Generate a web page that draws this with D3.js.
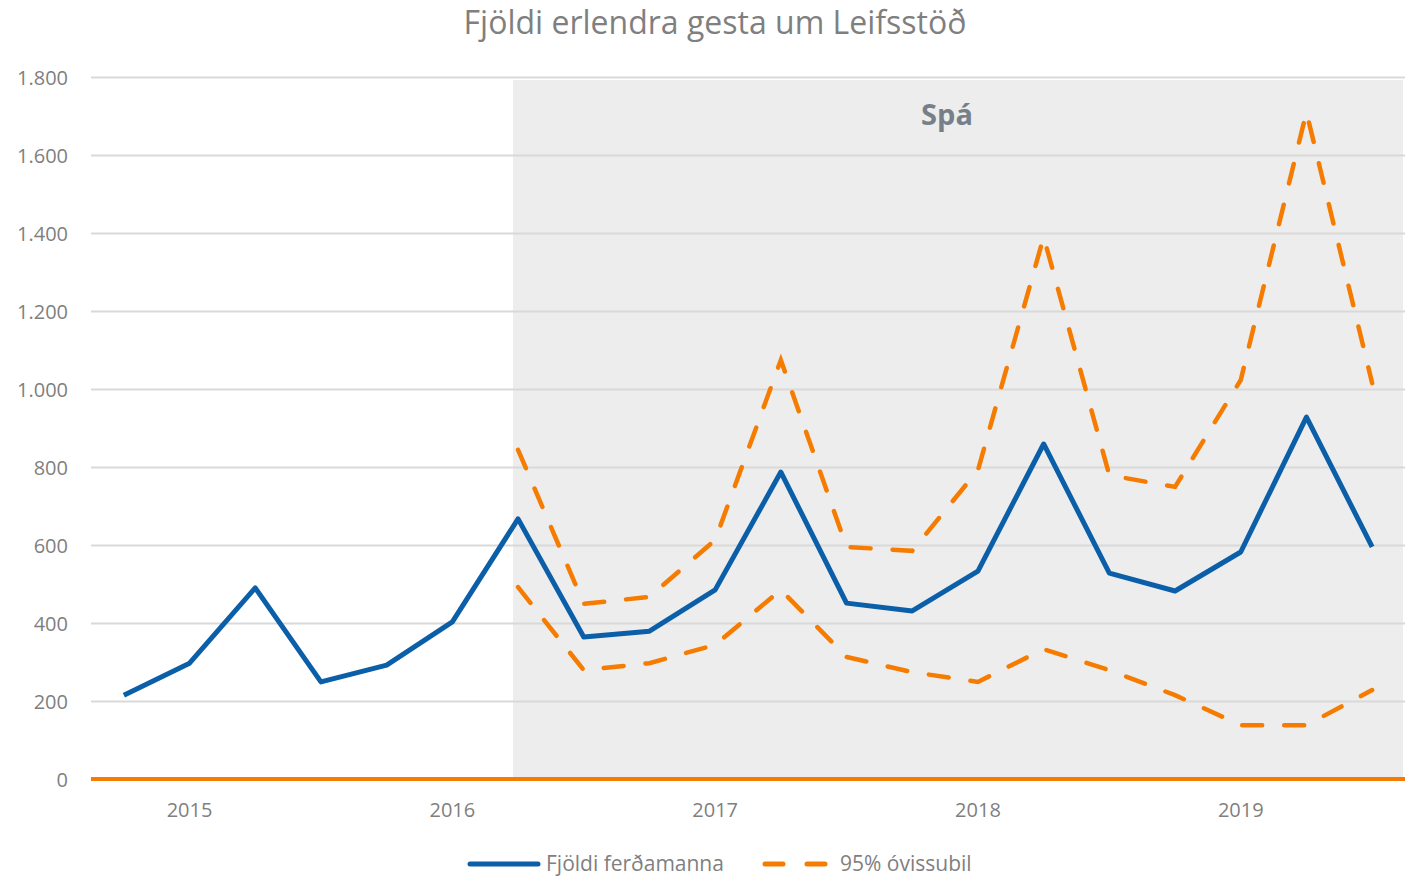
<!DOCTYPE html>
<html>
<head>
<meta charset="utf-8">
<script src="https://cdn.jsdelivr.net/npm/d3@7"></script>
<style>
  body { margin: 0; background: #fff; }
  text { font-family: "Open Sans", "Noto Sans", sans-serif; fill: #7f7f7f; }
</style>
</head>
<body>
<div id="chart"></div>
<script>
// quarters, 2014 Q4 .. 2019 Q3
var quarters = ["2014Q4","2015Q1","2015Q2","2015Q3","2015Q4","2016Q1","2016Q2","2016Q3","2016Q4",
                "2017Q1","2017Q2","2017Q3","2017Q4","2018Q1","2018Q2","2018Q3","2018Q4","2019Q1","2019Q2","2019Q3"];
var yearLabels = {"2015Q1": "2015", "2016Q1": "2016", "2017Q1": "2017", "2018Q1": "2018", "2019Q1": "2019"};
var visitors = [215, 297, 490, 249, 292, 403, 667, 364, 379, 485, 787, 451, 431, 533, 859, 528, 482, 582, 928, 595];
var upper = [null, null, null, null, null, null, 844, 449, 467, 613, 1074, 595, 585, 792, 1390, 779, 749, 1023, 1710, 1015];
var lower = [null, null, null, null, null, null, 492, 279, 297, 344, 485, 313, 274, 249, 333, 279, 215, 138, 138, 228];
var yTicks = [0, 200, 400, 600, 800, 1000, 1200, 1400, 1600, 1800];
var forecastStart = "2016Q2";

var width = 1411, height = 876;
var margin = {top: 77, right: 6, bottom: 97, left: 91};
var w = width - margin.left - margin.right,
    h = height - margin.top - margin.bottom;

var svg = d3.select("#chart").append("svg")
    .attr("width", width)
    .attr("height", height);

var g = svg.append("g")
    .attr("transform", "translate(" + margin.left + "," + margin.top + ")");

var x = d3.scaleBand().domain(quarters).range([0, w]);
var y = d3.scaleLinear().domain([0, 1800]).range([h, 0]);
var cx = function(d, i) { return x(quarters[i]) + x.bandwidth() / 2; };

// forecast shading
var shadeX = cx(null, quarters.indexOf(forecastStart)) - 5;
g.append("rect")
    .attr("x", shadeX)
    .attr("y", 3)
    .attr("width", w - shadeX - 2)
    .attr("height", h - 3)
    .style("fill", "#ededed");

// gridlines
var yAxis = d3.axisLeft(y)
    .tickValues(yTicks)
    .tickSize(-w)
    .tickFormat(function(d) { return d3.format(",")(d).replace(/,/g, "."); });

g.append("g")
    .attr("class", "axis axis--y")
    .call(yAxis)
    .call(function(s) {
      s.select(".domain").remove();
      s.selectAll(".tick line").attr("stroke", "#d9d9d9").attr("stroke-width", 2);
      s.selectAll(".tick text").attr("x", -23).attr("dy", "0.35em")
        .style("font-size", "20px").style("fill", "#7f7f7f");
    });

g.append("text")
    .attr("x", 856)
    .attr("y", 48)
    .attr("text-anchor", "middle")
    .style("font-size", "29px")
    .style("font-weight", "bold")
    .style("fill", "#758089")
    .text("Spá");

// zero line
g.append("line")
    .attr("x1", 0).attr("x2", w)
    .attr("y1", y(0)).attr("y2", y(0))
    .attr("stroke", "#f57c00")
    .attr("stroke-width", 4);

// x axis labels
var xAxis = d3.axisBottom(x)
    .tickValues(Object.keys(yearLabels))
    .tickSize(0)
    .tickFormat(function(d) { return yearLabels[d]; });

g.append("g")
    .attr("class", "axis axis--x")
    .attr("transform", "translate(0," + h + ")")
    .call(xAxis)
    .call(function(s) {
      s.select(".domain").remove();
      s.selectAll(".tick text").attr("dy", "1.75em")
        .style("font-size", "20px").style("fill", "#7f7f7f");
    });

var line = d3.line()
    .defined(function(d) { return d != null; })
    .x(cx)
    .y(function(d) { return y(d); });

[upper, lower].forEach(function(series) {
  g.append("path")
      .datum(series)
      .attr("d", line)
      .attr("fill", "none")
      .attr("stroke", "#f57c00")
      .attr("stroke-width", 4.5)
      .attr("stroke-linecap", "round")
      .attr("stroke-dasharray", "20,22");
});

g.append("path")
    .datum(visitors)
    .attr("d", line)
    .attr("fill", "none")
    .attr("stroke", "#0b5fa8")
    .attr("stroke-width", 5)
    .attr("stroke-linejoin", "round");

// title
svg.append("text")
    .attr("x", 715)
    .attr("y", 34)
    .attr("text-anchor", "middle")
    .style("font-size", "32px")
    .style("fill", "#7f7f7f")
    .text("Fjöldi erlendra gesta um Leifsstöð");

// legend
var legend = svg.append("g").attr("transform", "translate(0,864)");
legend.append("line")
    .attr("x1", 470).attr("x2", 538).attr("y1", 0).attr("y2", 0)
    .attr("stroke", "#0b5fa8").attr("stroke-width", 5).attr("stroke-linecap", "round");
legend.append("text")
    .attr("x", 546).attr("y", 0).attr("dy", "0.35em")
    .style("font-size", "21px")
    .text("Fjöldi ferðamanna");
legend.append("line")
    .attr("x1", 765).attr("x2", 825).attr("y1", 0).attr("y2", 0)
    .attr("stroke", "#f57c00").attr("stroke-width", 5).attr("stroke-linecap", "round")
    .attr("stroke-dasharray", "18,24");
legend.append("text")
    .attr("x", 840).attr("y", 0).attr("dy", "0.35em")
    .style("font-size", "21px")
    .text("95% óvissubil");
</script>
</body>
</html>
